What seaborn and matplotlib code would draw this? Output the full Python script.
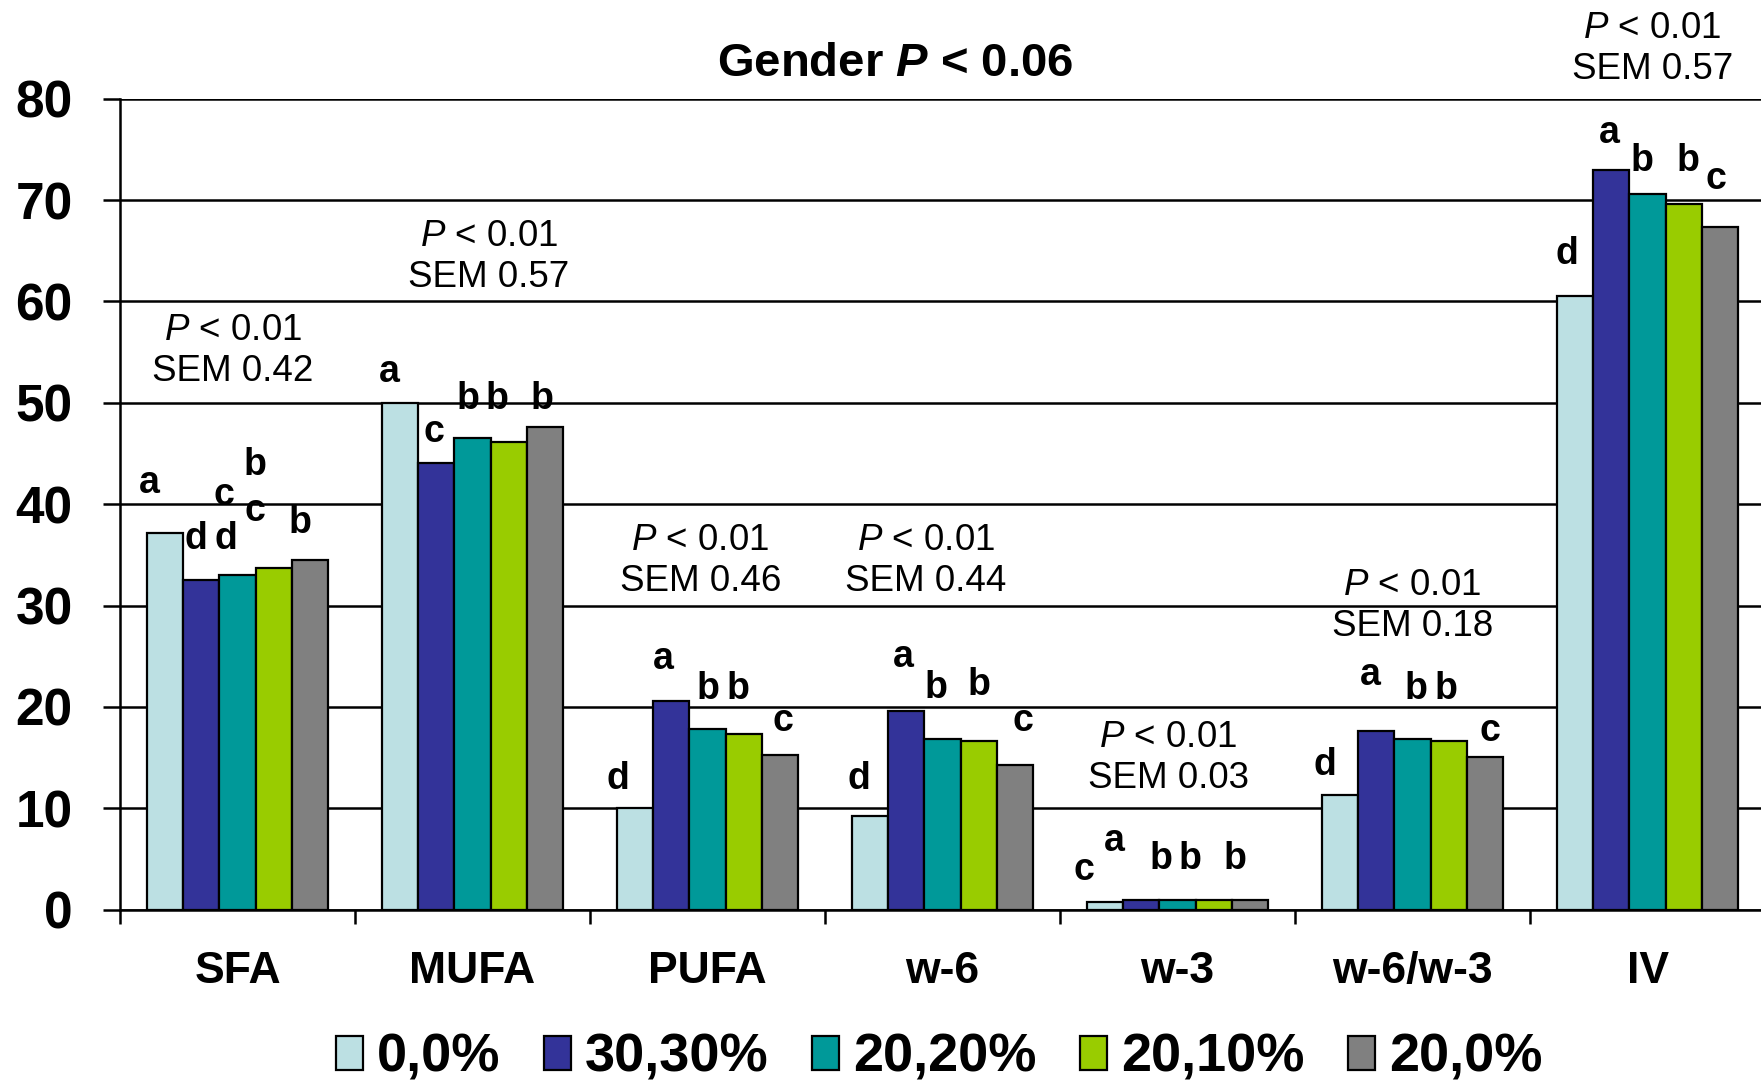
import pandas as pd
import matplotlib
matplotlib.use("Agg")
import matplotlib.pyplot as plt
from matplotlib.patches import Patch
import seaborn as sns

# ---- data ----
categories = ["SFA", "MUFA", "PUFA", "w-6", "w-3", "w-6/w-3", "IV"]
groups = ["0,0%", "30,30%", "20,20%", "20,10%", "20,0%"]
colors = ["#BCE0E3", "#333399", "#009999", "#99CC00", "#808080"]

vals_0_0 = [37.2, 50.0, 10.0, 9.2, 0.8, 11.3, 60.5]
vals_30_30 = [32.5, 44.1, 20.6, 19.6, 1.0, 17.6, 73.0]
vals_20_20 = [33.0, 46.5, 17.8, 16.8, 1.0, 16.8, 70.6]
vals_20_10 = [33.7, 46.1, 17.3, 16.6, 1.0, 16.6, 69.6]
vals_20_0 = [34.5, 47.6, 15.3, 14.3, 1.0, 15.1, 67.3]

sem_values = ["0.42", "0.57", "0.46", "0.44", "0.03", "0.18", "0.57"]
# note placement: offset from category centre, height in data units
note_dx = [-0.02, 0.07, -0.03, -0.07, -0.04, 0.0, 0.02]
note_y = [55.1, 64.4, 34.4, 34.4, 15.0, 30.0, 84.9]

# significance letters: (text, offset from category centre, height)
letters = [
    [("a", -0.376, 42.1), ("d", -0.176, 36.6), ("c", -0.057, 40.9), ("d", -0.048, 36.6),
     ("b", 0.076, 43.9), ("c", 0.076, 39.3), ("b", 0.267, 38.1)],
    [("a", -0.352, 53.0), ("c", -0.162, 47.1), ("b", -0.019, 50.4), ("b", 0.105, 50.4),
     ("b", 0.295, 50.4)],
    [("d", -0.381, 12.9), ("a", -0.190, 24.7), ("b", 0.0, 21.8), ("b", 0.129, 21.8),
     ("c", 0.319, 18.6)],
    [("d", -0.357, 12.9), ("a", -0.167, 24.9), ("b", -0.029, 21.9), ("b", 0.157, 22.2),
     ("c", 0.343, 18.6)],
    [("c", -0.400, 3.9), ("a", -0.271, 6.8), ("b", -0.071, 5.0), ("b", 0.052, 5.0),
     ("b", 0.243, 5.0)],
    [("d", -0.371, 14.3), ("a", -0.181, 23.2), ("b", 0.014, 21.8), ("b", 0.143, 21.8),
     ("c", 0.329, 17.6)],
    [("d", -0.343, 64.7), ("a", -0.162, 76.6), ("b", -0.024, 73.9), ("b", 0.171, 73.9),
     ("c", 0.290, 72.1)],
]

# ---- long table for seaborn ----
all_vals = [vals_0_0, vals_30_30, vals_20_20, vals_20_10, vals_20_0]
rows = []
for g, series in zip(groups, all_vals):
    for c, v in zip(categories, series):
        rows.append({"Category": c, "Group": g, "Value": v})
df = pd.DataFrame(rows)

sns.set_theme(style="white")
plt.rcParams["font.family"] = ["Liberation Sans", "DejaVu Sans"]
plt.rcParams["text.color"] = "black"
plt.rcParams["axes.labelcolor"] = "black"
plt.rcParams["xtick.color"] = "black"
plt.rcParams["ytick.color"] = "black"
plt.rcParams["mathtext.fontset"] = "custom"
plt.rcParams["mathtext.rm"] = "Liberation Sans"
plt.rcParams["mathtext.it"] = "Liberation Sans:italic"
plt.rcParams["mathtext.bf"] = "Liberation Sans:bold"
plt.rcParams["mathtext.bfit"] = "Liberation Sans:bold:italic"

fig = plt.figure(figsize=(17.61, 10.84), dpi=100)
ax = fig.add_axes([120 / 1761, 0.1608, 1645 / 1761, 0.7481])

sns.barplot(data=df, x="Category", y="Value", hue="Group", order=categories,
            hue_order=groups, palette=colors, width=0.77, edgecolor="black",
            linewidth=1.6, saturation=1, errorbar=None, ax=ax, zorder=3)

ax.set_xlim(-0.5, 6.5)
ax.set_ylim(0, 80)
ax.set_yticks(range(0, 81, 10))
ax.yaxis.grid(True, color="black", linewidth=1.8, zorder=0)
ax.set_axisbelow(True)
for side in ["top", "right"]:
    ax.spines[side].set_visible(False)
for side in ["left", "bottom"]:
    ax.spines[side].set_color("black")
    ax.spines[side].set_linewidth(1.8)

ax.set_xticks([i - 0.5 for i in range(len(categories))], minor=False)
ax.set_xticklabels([])
ax.set_xticks(range(len(categories)), minor=True)
ax.set_xticklabels(categories, minor=True, fontsize=32, fontweight="bold")
ax.tick_params(axis="x", which="major", direction="out", length=10, width=1.8,
               color="black", bottom=True)
ax.tick_params(axis="x", which="minor", length=0, pad=30)
ax.tick_params(axis="y", direction="out", length=12, width=1.8, color="black",
               left=True, pad=22, labelsize=37)
for lab in ax.get_yticklabels():
    lab.set_fontweight("bold")
ax.set_xlabel("")
ax.set_ylabel("")

# statistics notes
for i, (sem, dx, y) in enumerate(zip(sem_values, note_dx, note_y)):
    ax.text(i + dx, y, "$\\mathit{P}$ < 0.01\nSEM " + sem, ha="center", va="center",
            fontsize=26.5, linespacing=1.22, clip_on=False)

# letters
for i, cat_letters in enumerate(letters):
    for txt, dx, y in cat_letters:
        ax.text(i + dx, y, txt, ha="center", va="center", fontsize=27,
                fontweight="bold", clip_on=False)

fig.text(0.5083, 0.9409, "Gender $\\mathbfit{P}$ < 0.06", ha="center", va="center",
         fontsize=34, fontweight="bold")

ax.legend_.remove()
handles = [Patch(facecolor=c, edgecolor="black", linewidth=1.6) for c in colors]
fig.legend(handles, groups, loc="center", bbox_to_anchor=(939 / 1761, 1 - 1058 / 1084),
           ncol=5, frameon=False, prop={"size": 39, "weight": "bold"},
           handlelength=0.5, handleheight=0.6, handletextpad=0.26,
           columnspacing=0.8)

fig.savefig("out.png", dpi=100)
